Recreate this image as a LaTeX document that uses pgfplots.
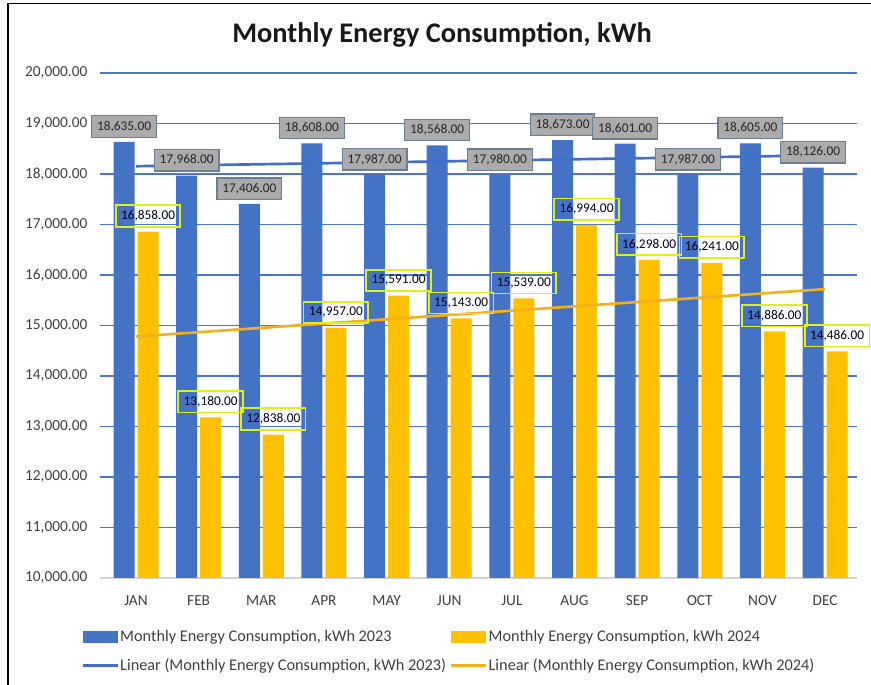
\documentclass[border=0pt]{standalone}
\usepackage{fontspec}
\setmainfont{Carlito}
\usepackage{pgfplots}
\pgfplotsset{compat=1.18}
\definecolor{b23}{HTML}{4472C4}
\definecolor{y24}{HTML}{FFC000}
\definecolor{gridb}{HTML}{4A78C8}
\definecolor{lblgray}{HTML}{ABABAB}
\definecolor{lblborder}{HTML}{6C7E96}
\definecolor{limeb}{HTML}{E0EE1A}
\definecolor{trendb}{HTML}{3F6FC9}
\definecolor{trendy}{HTML}{F2B01E}
\definecolor{ticktext}{HTML}{404040}
\begin{document}
\begin{tikzpicture}
\useasboundingbox (0,0) rectangle (653.25pt,513.75pt);
\fill[white] (0,0) rectangle (653.25pt,513.75pt);
\draw[black, line width=1.2pt] (6pt,0) -- (6pt,511pt) -- (653.25pt,511pt);
\node[font=\bfseries\fontsize{21.3}{24}\selectfont, text=black!90] at (331.5pt,487.5pt) {Monthly Energy Consumption, kWh};
\begin{axis}[
  at={(75pt,80.25pt)}, anchor=south west, scale only axis,
  width=567.75pt, height=378.75pt,
  ymin=10000, ymax=20000, ytick={11000,12000,...,20000},
  extra y ticks={10000},
  extra y tick style={grid style={color=gray!35, line width=1pt}},
  scaled y ticks=false,
  xmin=-0.575, xmax=11.51, xtick={0,...,11},
  xticklabels={JAN,FEB,MAR,APR,MAY,JUN,JUL,AUG,SEP,OCT,NOV,DEC},
  ybar=2.25pt, bar width=15.75pt,
  axis line style={draw=none}, major tick length=0pt,
  ymajorgrids, grid style={gridb, line width=1.3pt},
  tick label style={font=\fontsize{11.5}{13}\selectfont, text=ticktext},
  xticklabel style={yshift=-10pt},
  yticklabel style={xshift=-6pt, /pgf/number format/.cd, fixed, fixed zerofill, precision=2, 1000 sep={,}, assume math mode=true},
  clip=false,
  legend columns=2,
  legend cell align=left,
  legend style={at={(-0.03,-0.093)}, anchor=north west, draw=none, fill=none,
    font=\fontsize{12.2}{14}\selectfont, text=ticktext,
    nodes={inner xsep=1pt},
    /tikz/every even column/.append style={column sep=2pt},
    row sep=7pt},
]
\addplot[fill=b23, draw=none,
  legend image code/.code={\fill (0pt,-4.5pt) rectangle (26pt,4.5pt);},
  nodes near coords={\pgfmathprintnumber[fixed,fixed zerofill,precision=2,1000 sep={,},assume math mode=true]{\pgfplotspointmeta}},
  nodes near coords style={font=\fontsize{10}{12}\selectfont, anchor=south, yshift=3pt,
    fill=lblgray, draw=lblborder, line width=0.9pt, inner xsep=4pt, inner ysep=4pt, text=black!85}]
  coordinates {(0,18635) (1,17968) (2,17406) (3,18608) (4,17987) (5,18568)
               (6,17980) (7,18673) (8,18601) (9,17987) (10,18605) (11,18126)};
\addlegendentry{Monthly Energy Consumption, kWh 2023}
\addplot[fill=y24, draw=none,
  legend image code/.code={\fill (0pt,-4.5pt) rectangle (26pt,4.5pt);},
  nodes near coords={\pgfmathprintnumber[fixed,fixed zerofill,precision=2,1000 sep={,},assume math mode=true]{\pgfplotspointmeta}},
  nodes near coords style={font=\fontsize{10}{12}\selectfont, anchor=south, yshift=3pt,
    fill=none, draw=limeb, line width=1.3pt, inner xsep=4pt, inner ysep=4pt, text=black!90!blue}]
  coordinates {(0,16858) (1,13180) (2,12838) (3,14957) (4,15591) (5,15143)
               (6,15539) (7,16994) (8,16298) (9,16241) (10,14886) (11,14486)};
\addlegendentry{Monthly Energy Consumption, kWh 2024}
\addplot[sharp plot, trendb, line width=2pt, mark=none,
  legend image code/.code={\draw (0pt,0pt) -- (26pt,0pt);}]
  coordinates {(0,18154) (11,18370)};
\addlegendentry{Linear (Monthly Energy Consumption, kWh 2023)}
\addplot[sharp plot, trendy, line width=2pt, mark=none,
  legend image code/.code={\draw (0pt,0pt) -- (26pt,0pt);}]
  coordinates {(0,14782) (11,15720)};
\addlegendentry{Linear (Monthly Energy Consumption, kWh 2024)}
\end{axis}
\end{tikzpicture}
\end{document}
